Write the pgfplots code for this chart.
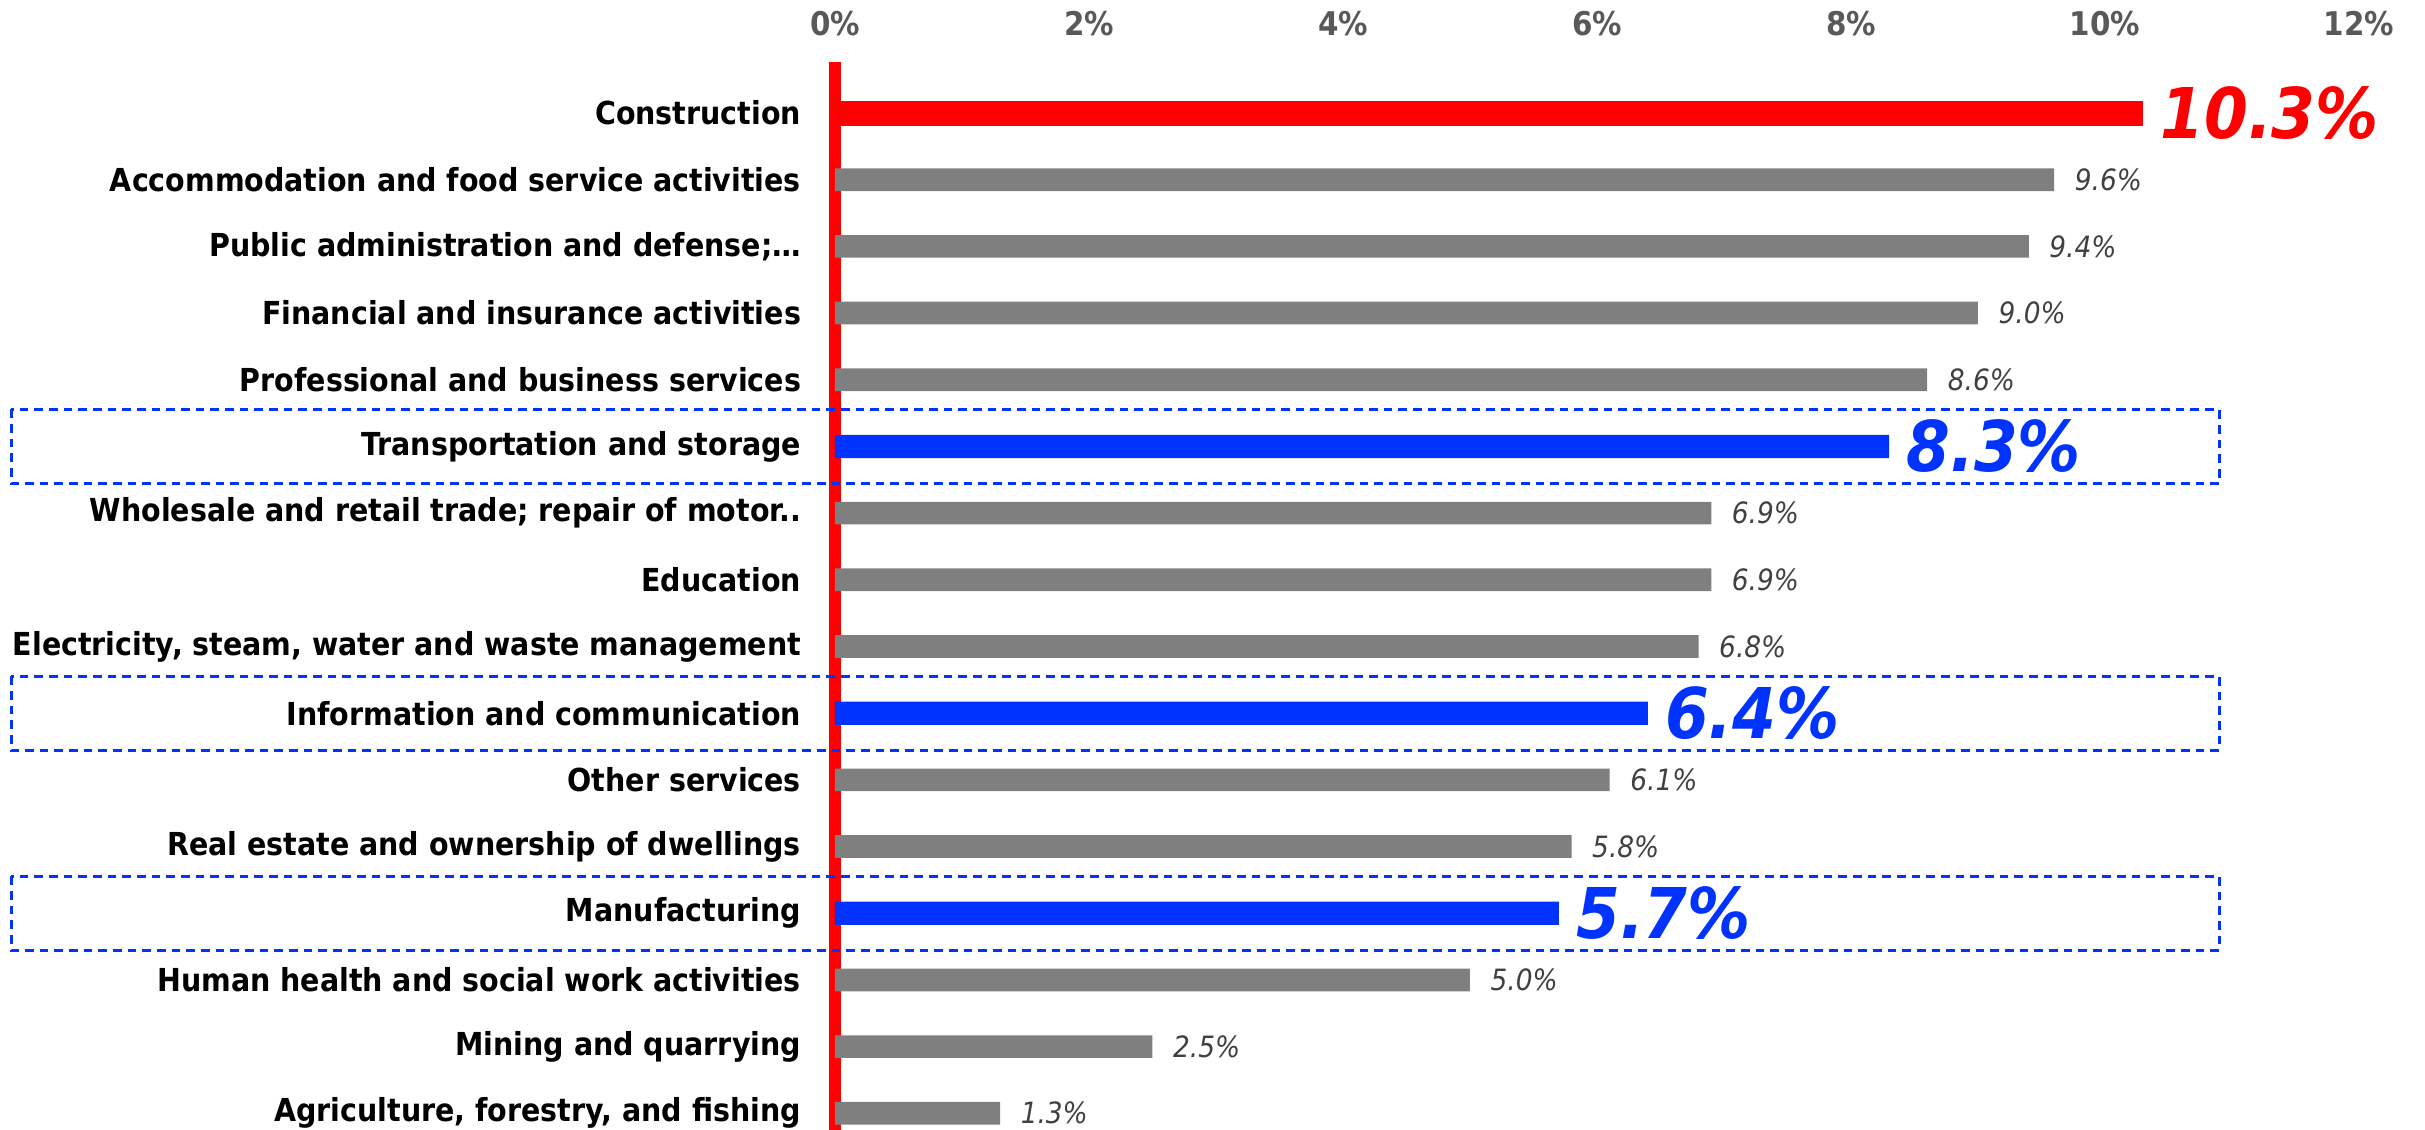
\documentclass[border=0pt]{standalone}
\usepackage{fontspec}
\setmainfont{DejaVu Sans Condensed}
\usepackage{pgfplots}
\pgfplotsset{compat=1.18}
\definecolor{barred}{RGB}{255,0,0}
\definecolor{barblue}{RGB}{0,51,255}
\definecolor{bargray}{RGB}{127,127,127}
\definecolor{ticklab}{RGB}{89,89,89}
\definecolor{vallab}{RGB}{64,64,64}
\tikzset{hlbox/.style={barblue, line width=0.9pt, dash pattern=on 2.6pt off 1.8pt}}
\begin{document}
\begin{tikzpicture}
\begin{axis}[
  scale only axis, width=457.2pt, height=320.4pt,
  xmin=0, xmax=12, ymin=-15.25, ymax=0.765,
  clip=false,
  axis x line*=top, axis y line*=left,
  x axis line style={draw=none},
  y axis line style={draw=barred, line width=3.7pt},
  major tick length=0pt,
  /pgf/number format/assume math mode=true,
  xtick={0,2,4,6,8,10,12},
  xticklabels={0\%,2\%,4\%,6\%,8\%,10\%,12\%},
  xticklabel style={font=\fontsize{9.8}{11}\selectfont\bfseries, text=ticklab, inner sep=0pt, yshift=7.5pt},
  ytick={-15,-14,-13,-12,-11,-10,-9,-8,-7,-6,-5,-4,-3,-2,-1,0},
  yticklabels={{Agriculture, forestry, and fishing}, {Mining and quarrying}, {Human health and social work activities}, {Manufacturing}, {Real estate and ownership of dwellings}, {Other services}, {Information and communication}, {Electricity, steam, water and waste management}, {Education}, {Wholesale and retail trade; repair of motor..}, {Transportation and storage}, {Professional and business services}, {Financial and insurance activities}, {Public administration and defense;\ldots}, {Accommodation and food service activities}, {Construction}},
  yticklabel style={font=\fontsize{9.5}{10}\selectfont\bfseries, text=black, inner sep=0pt, anchor=east, xshift=-10pt},
  xbar, bar shift=0pt,
  point meta=x,
  nodes near coords={\pgfmathprintnumber[fixed,fixed zerofill,precision=1]{\pgfplotspointmeta}\%},
]
\addplot[fill=bargray, draw=none, bar width=6.8pt,
  every node near coord/.style={font=\fontsize{8.8}{10}\selectfont\itshape, text=vallab, anchor=west, inner sep=0pt, xshift=6pt}]
  coordinates {(9.6,-1) (9.4,-2) (9.0,-3) (8.6,-4) (6.9,-6) (6.9,-7) (6.8,-8) (6.1,-10) (5.8,-11) (5.0,-13) (2.5,-14) (1.3,-15)};
\addplot[fill=barblue, draw=none, bar width=7pt,
  every node near coord/.style={font=\fontsize{21}{24}\selectfont\bfseries\itshape, text=barblue, anchor=west, inner sep=0pt, xshift=5pt}]
  coordinates {(8.3,-5) (6.4,-9) (5.7,-12)};
\addplot[fill=barred, draw=none, bar width=7.5pt,
  every node near coord/.style={font=\fontsize{21}{24}\selectfont\bfseries\itshape, text=barred, anchor=west, inner sep=0pt, xshift=5pt}]
  coordinates {(10.3,0)};
\draw[hlbox] (axis cs:-6.488,-4.445) rectangle (axis cs:10.898,-5.555);
\draw[hlbox] (axis cs:-6.488,-8.445) rectangle (axis cs:10.898,-9.555);
\draw[hlbox] (axis cs:-6.488,-11.445) rectangle (axis cs:10.898,-12.555);
\coordinate (bbTL) at (axis cs:-6.575,1.695);
\coordinate (bbBR) at (axis cs:12.520,-15.25);
\end{axis}
\pgfresetboundingbox
\useasboundingbox (bbTL) rectangle (bbBR);
\end{tikzpicture}
\end{document}
